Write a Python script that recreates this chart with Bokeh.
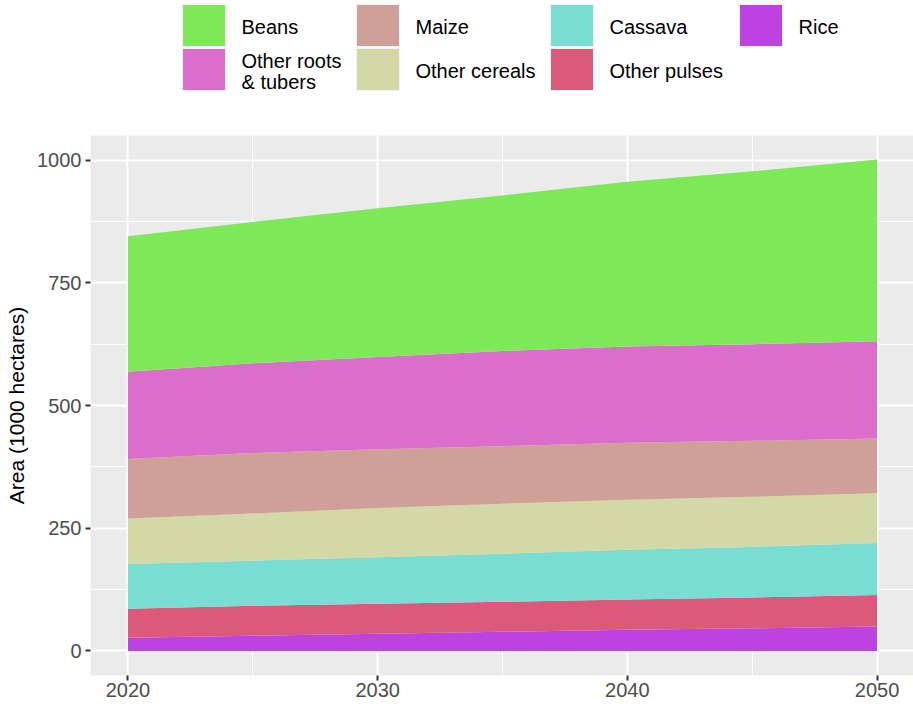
from bokeh.plotting import figure
from bokeh.models import ColumnDataSource, Range1d, SingleIntervalTicker
from bokeh.layouts import column
from bokeh.embed import file_html
from bokeh.resources import INLINE
from bokeh.core.properties import value

# ---------------- data (1000 hectares) ----------------
years = [2020, 2025, 2030, 2035, 2040, 2045, 2050]
rice = [27, 31, 35, 39, 43, 46, 50]
other_pulses = [59, 61, 61, 61, 62, 63, 64]
cassava = [91, 92, 95, 98, 101, 103, 106]
other_cereals = [93, 96, 100, 102, 102, 102, 101]
maize = [121, 123, 120, 117, 116, 114, 112]
other_roots = [178, 183, 188, 194, 196, 197, 198]
beans = [276, 288, 303, 317, 336, 352, 370]

# stacking order, bottom to top
stack_keys = ["rice", "other_pulses", "cassava", "other_cereals", "maize", "other_roots", "beans"]
stack_colors = ["#BC43E0", "#DB5A7C", "#7ADDD4", "#D2D9A6", "#CEA097", "#DB6ECB", "#7FE858"]

# legend (column-major, 2 rows)
legend_labels = ["Beans", "Other roots\n& tubers", "Maize", "Other cereals",
                 "Cassava", "Other pulses", "Rice"]
legend_colors = ["#7FE858", "#DB6ECB", "#CEA097", "#D2D9A6", "#7ADDD4", "#DB5A7C", "#BC43E0"]

x_ticks_interval = 10
y_ticks_interval = 250
y_title = "Area (1000 hectares)"

FONT = "Liberation Sans"
W = 913
BL, BR = 90, 0          # left / right borders (px); panel runs off the right edge
LH = 125                # legend strip height
MH = 710 - LH           # main figure height
X_MIN, X_MAX = 2018.5, 2051.46

# ---------------- legend figure (data units = page pixels) ----------------
leg = figure(width=W, height=LH, x_range=Range1d(BL, W - BR), y_range=Range1d(LH, 0),
             output_backend="svg", toolbar_location=None,
             x_axis_type=None, y_axis_type=None,
             min_border_left=BL, min_border_right=BR, min_border_top=0, min_border_bottom=0)
leg.grid.visible = False
leg.outline_line_color = None
leg.background_fill_color = "white"
leg.border_fill_color = "white"

col_left = [182, 356, 550, 739]
row_top = [4, 48]
KW, KH = 43, 42
kx, ky, kc = [], [], []
tx, ty, tt = [], [], []
for i, (lab, colr) in enumerate(zip(legend_labels, legend_colors)):
    c, r = divmod(i, 2)
    cx = col_left[c] + KW / 2
    cy = row_top[r] + KH / 2
    kx.append(cx); ky.append(cy); kc.append(colr)
    lines = lab.split("\n")
    if len(lines) == 1:
        tx.append(col_left[c] + KW + 16); ty.append(cy + 1); tt.append(lab)
    else:
        tx += [col_left[c] + KW + 16] * 2
        ty += [cy - 9, cy + 12]
        tt += lines
leg.rect(x=kx, y=ky, width=KW, height=KH, fill_color=kc, line_color="#F4F4F4", line_width=1)
leg.text(x=tx, y=ty, text=tt, text_font=value(FONT), text_font_size=value("20px"),
         text_color="#000000", text_baseline="middle", text_align="left")

# ---------------- main figure ----------------
src = ColumnDataSource(dict(year=years, rice=rice, other_pulses=other_pulses, cassava=cassava,
                            other_cereals=other_cereals, maize=maize,
                            other_roots=other_roots, beans=beans))

p = figure(width=W, height=MH, x_range=Range1d(X_MIN, X_MAX), y_range=Range1d(-50, 1050),
           output_backend="svg", toolbar_location=None,
           min_border_left=BL, min_border_right=BR, min_border_top=135 - LH,
           min_border_bottom=MH - (135 - LH) - 540)
p.varea_stack(stackers=stack_keys, x="year", color=stack_colors, source=src)

p.background_fill_color = "#EBEBEB"
p.border_fill_color = "white"
p.outline_line_color = None

xt = SingleIntervalTicker(interval=x_ticks_interval, num_minor_ticks=2)
yt = SingleIntervalTicker(interval=y_ticks_interval, num_minor_ticks=2)
p.xaxis.ticker = xt
p.xgrid.ticker = xt
p.yaxis.ticker = yt
p.ygrid.ticker = yt

p.grid.grid_line_color = "white"
p.grid.grid_line_width = 2
p.grid.minor_grid_line_color = "white"
p.grid.minor_grid_line_width = 1

p.axis.axis_line_color = None
p.axis.major_tick_line_color = "#333333"
p.axis.major_tick_line_width = 2
p.axis.major_tick_in = 0
p.axis.major_tick_out = 5
p.axis.minor_tick_line_color = None
p.axis.major_label_text_font = FONT
p.axis.major_label_text_font_size = "20px"
p.axis.major_label_text_color = "#4D4D4D"
p.yaxis.major_label_standoff = 4
p.xaxis.major_label_standoff = 2

p.yaxis.axis_label = y_title
p.yaxis.axis_label_text_font = FONT
p.yaxis.axis_label_text_font_style = "normal"
p.yaxis.axis_label_text_font_size = "21px"
p.yaxis.axis_label_text_color = "#000000"
p.yaxis.axis_label_standoff = 6

layout = column(leg, p)
open("out.html", "w").write(file_html(layout, INLINE))
